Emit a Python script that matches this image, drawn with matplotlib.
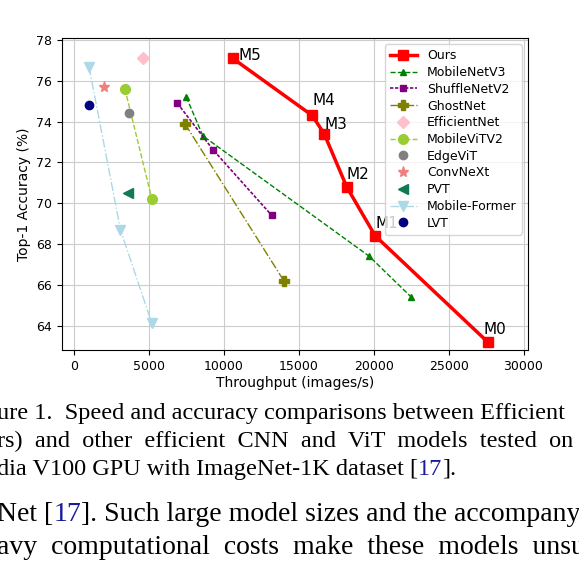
import matplotlib
matplotlib.use('Agg')
import matplotlib.pyplot as plt

ours_x = [27600, 20100, 18200, 16700, 15900, 10600]
ours_y = [63.2, 68.4, 70.8, 73.4, 74.3, 77.1]
ours_lbl = ['M0', 'M1', 'M2', 'M3', 'M4', 'M5']
mnv3_x = [7500, 8600, 19700, 22500]; mnv3_y = [75.2, 73.3, 67.4, 65.4]
shuf_x = [6900, 9300, 13200]; shuf_y = [74.9, 72.6, 69.4]
ghost_x = [7400, 14000]; ghost_y = [73.9, 66.2]
eff_x = [4600]; eff_y = [77.1]
mvit_x = [3400, 5200]; mvit_y = [75.6, 70.2]
edge_x = [3700]; edge_y = [74.4]
conv_x = [2000]; conv_y = [75.7]
pvt_x = [3600]; pvt_y = [70.5]
mf_x = [1000, 3100, 5200]; mf_y = [76.7, 68.7, 64.1]
lvt_x = [1000]; lvt_y = [74.8]

fig = plt.figure(figsize=(5.79, 5.63), dpi=100)
ax = fig.add_axes([62/579, 1-350/563, (528-62)/579, (350-38)/563])
ax.plot(ours_x, ours_y, 's-', color='red', lw=2.5, ms=7, label='Ours')
ax.plot(mnv3_x, mnv3_y, '^--', color='green', lw=1, ms=5, label='MobileNetV3')
ax.plot(shuf_x, shuf_y, 's:', color='purple', lw=1.2, ms=5, label='ShuffleNetV2', dashes=(2, 1))
ax.plot(ghost_x, ghost_y, 'P-.', color='olive', lw=1, ms=7, label='GhostNet')
ax.plot(eff_x, eff_y, 'D', color='pink', ms=6, label='EfficientNet')
ax.plot(mvit_x, mvit_y, 'o--', color='yellowgreen', lw=1, ms=7, label='MobileViTV2')
ax.plot(edge_x, edge_y, 'o', color='gray', ms=6, label='EdgeViT')
ax.plot(conv_x, conv_y, '*', color='lightcoral', ms=8, label='ConvNeXt')
ax.plot(pvt_x, pvt_y, '<', color='#117a55', ms=7, label='PVT')
ax.plot(mf_x, mf_y, 'v-.', color='lightblue', lw=1, ms=7, label='Mobile-Former')
ax.plot(lvt_x, lvt_y, 'o', color='navy', ms=6, label='LVT')
offs = {'M0': (-300, 0.4), 'M1': (0, 0.4), 'M2': (0, 0.4), 'M3': (0, 0.25), 'M4': (0, 0.5), 'M5': (400, -0.1)}
for x, y, l in zip(ours_x, ours_y, ours_lbl):
    dx, dy = offs[l]
    ax.text(x + dx, y + dy, l, fontsize=11)
ax.set_xlim(-800, 30300)
ax.set_ylim(62.8, 78.1)
ax.set_xticks(range(0, 30001, 5000))
ax.set_yticks(range(64, 79, 2))
ax.tick_params(labelsize=9)
ax.grid(True, color='#cccccc')
ax.set_xlabel('Throughput (images/s)', fontsize=10, labelpad=2)
ax.set_ylabel('Top-1 Accuracy (%)', fontsize=10)
ax.legend(loc='upper right', fontsize=9, handlelength=2.2, labelspacing=0.3)

def line(y, parts, size):
    t = fig.text(-0.005, 1 - y/563, parts[0][0], color=parts[0][1], family='Liberation Serif', fontsize=size)
    for s, c in parts[1:]:
        t = fig.text(0, 0, s, color=c, family='Liberation Serif', fontsize=size,
                     transform=matplotlib.transforms.offset_copy(t.get_transform(), fig=fig, x=0, y=0))
    return t

def chain(y, parts, size):
    prev = None
    for s, c in parts:
        if prev is None:
            prev = fig.text(-0.005, 1 - y/563, s, color=c, family='Liberation Serif', fontsize=size, va='baseline')
        else:
            prev = fig.text(0, 0, s, color=c, family='Liberation Serif', fontsize=size, va='baseline',
                            transform=None)
            prev.set_position((0, 0))
            prev._chain = True
        yield prev

k = '#1a1a9a'
def chain_ann(y, parts, size):
    first = fig.text(-0.005, 1 - y/563, parts[0][0], color=parts[0][1], family='Liberation Serif',
                     fontsize=size, va='baseline')
    prev = first
    for s, c in parts[1:]:
        prev = fig.text(0, 0, s, color=c, family='Liberation Serif', fontsize=size, va='baseline') if False else \
            ax.annotate(s, xy=(1, 0), xycoords=prev, color=c, family='Liberation Serif', fontsize=size,
                        va='bottom', annotation_clip=False)
    return first

b = 'black'
fig.text(-0.005, 1-419/563, 'ure 1.  Speed and accuracy comparisons between Efficient',
         family='Liberation Serif', fontsize=17.5)
fig.text(-0.005, 1-447/563, 'rs)  and  other  efficient  CNN  and  ViT  models  tested  on',
         family='Liberation Serif', fontsize=17.5)
chain_ann(475, [('dia V100 GPU with ImageNet-1K dataset [', b), ('17', k), ('].', b)], 17.5)
chain_ann(521, [('Net [', b), ('17', k), (']. Such large model sizes and the accompany', b)], 20)
fig.text(-0.005, 1-554/563, 'avy  computational  costs  make  these  models  unsuita',
         family='Liberation Serif', fontsize=20)
fig.savefig('out.png', dpi=100)
